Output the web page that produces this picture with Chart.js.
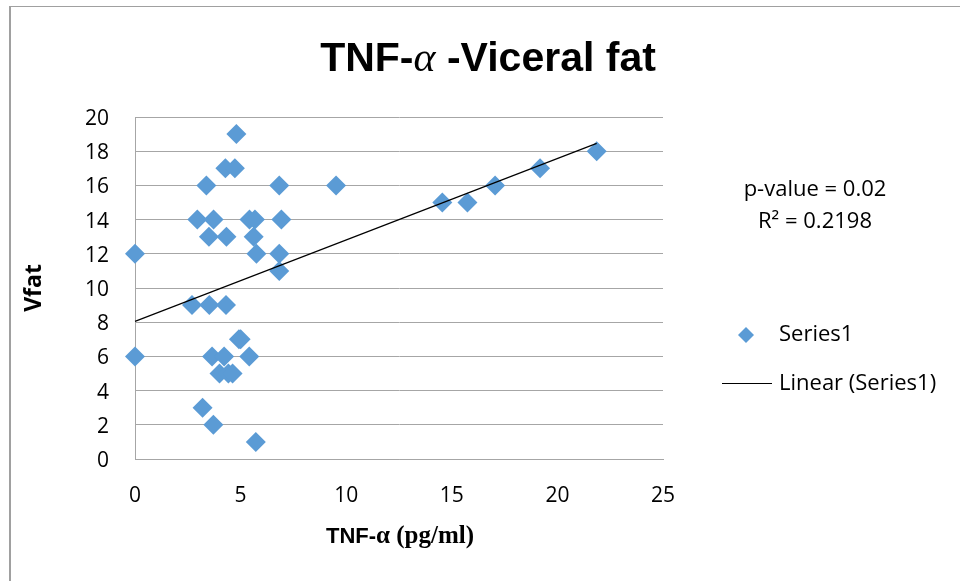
<!DOCTYPE html>
<html>
<head>
<meta charset="utf-8">
<script src="https://cdn.jsdelivr.net/npm/chart.js@4/dist/chart.umd.min.js"></script>
<style>
html,body{margin:0;padding:0;background:#fff;}
#wrap{position:relative;width:960px;height:581px;}
</style>
</head>
<body>
<div id="wrap"><canvas id="c" width="960" height="581"></canvas></div>
<script>
// ---- data ----
const tnfAlpha = [0, 0, 4.8, 4.28, 4.73, 3.38, 6.83, 9.52, 2.95, 3.72, 5.42, 5.68, 6.93,
  3.5, 4.33, 5.62, 5.75, 6.83, 6.83, 2.7, 3.52, 4.31, 4.92, 5.0, 3.65, 4.22, 5.41,
  4.0, 4.42, 4.62, 3.2, 3.71, 5.72, 14.55, 15.74, 17.05, 19.18, 21.86];
const vfat = [12, 6, 19, 17, 17, 16, 16, 16, 14, 14, 14, 14, 14,
  13, 13, 13, 12, 12, 11, 9, 9, 9, 7, 7, 6, 6, 6,
  5, 5, 5, 3, 2, 1, 15, 15, 16, 17, 18];
const trendX = [0, 21.86];
const trendY = [8.05, 18.46];
const xTicks = [0, 5, 10, 15, 20, 25];
const yTicks = [0, 2, 4, 6, 8, 10, 12, 14, 16, 18, 20];
const seriesName = 'Series1';
const trendName = 'Linear (Series1)';
const statLines = ['p-value = 0.02', 'R\u00B2 = 0.2198'];

const points = tnfAlpha.map((x, i) => ({x: x, y: vfat[i]}));
const trend = trendX.map((x, i) => ({x: x, y: trendY[i]}));

const BLUE = '#5b9bd5';
const GRID = '#a6a6a6';

function drawSegments(ctx, segs, cx, cy) {
  let total = 0;
  segs.forEach(s => { ctx.font = s.font; s.w = ctx.measureText(s.text).width; total += s.w; });
  let x = cx - total / 2;
  ctx.textBaseline = 'alphabetic';
  ctx.textAlign = 'left';
  segs.forEach(s => { ctx.font = s.font; ctx.fillText(s.text, x, cy); x += s.w; });
}

const decor = {
  id: 'decor',
  beforeDraw(chart) {
    const ctx = chart.ctx;
    ctx.save();
    ctx.fillStyle = '#fff';
    ctx.fillRect(0, 0, chart.width, chart.height);
    ctx.fillStyle = '#a0a0a0';
    ctx.fillRect(9, 6, 2, chart.height - 6);
    ctx.fillRect(9, 6, chart.width - 9, 1);
    ctx.restore();
  },
  afterDraw(chart) {
    const ctx = chart.ctx;
    ctx.save();
    ctx.fillStyle = '#000';
    // title
    drawSegments(ctx, [
      {text: 'TNF-', font: 'bold 41px "Liberation Sans Narrow", "Liberation Sans", sans-serif'},
      {text: '\u03B1', font: 'italic 42px "Liberation Serif", serif'},
      {text: ' -Viceral fat', font: 'bold 41px "Liberation Sans Narrow", "Liberation Sans", sans-serif'}
    ], 488, 71);
    // x axis title
    drawSegments(ctx, [
      {text: 'TNF-', font: 'bold 22px "Liberation Sans Narrow", "Liberation Sans", sans-serif'},
      {text: '\u03B1 (pg/ml)', font: 'bold 25px "Liberation Serif", serif'}
    ], 400, 543);
    // y axis title
    ctx.save();
    ctx.translate(41, 288);
    ctx.rotate(-Math.PI / 2);
    ctx.font = 'bold 23px "Open Sans", sans-serif';
    ctx.textAlign = 'center';
    ctx.textBaseline = 'alphabetic';
    ctx.fillText('Vfat', 0, 0);
    ctx.restore();
    // stats
    ctx.font = '22px "Open Sans", sans-serif';
    ctx.textAlign = 'center';
    ctx.textBaseline = 'middle';
    ctx.fillText(statLines[0], 815, 190);
    ctx.fillText(statLines[1], 815, 222);
    // legend
    ctx.textAlign = 'left';
    ctx.fillText(seriesName, 779, 335);
    ctx.fillText(trendName, 779, 384);
    ctx.fillStyle = BLUE;
    ctx.beginPath();
    ctx.moveTo(746, 327); ctx.lineTo(754, 335); ctx.lineTo(746, 343); ctx.lineTo(738, 335);
    ctx.closePath(); ctx.fill();
    ctx.strokeStyle = '#000';
    ctx.lineWidth = 1;
    ctx.beginPath();
    ctx.moveTo(722, 383.5); ctx.lineTo(772, 383.5); ctx.stroke();
    ctx.restore();
  }
};

new Chart(document.getElementById('c'), {
  type: 'scatter',
  data: {
    datasets: [
      {
        label: seriesName,
        data: points,
        pointStyle: 'rectRot',
        pointRadius: 10,
        pointHoverRadius: 10,
        backgroundColor: BLUE,
        borderColor: BLUE,
        borderWidth: 0,
        clip: false,
        order: 2
      },
      {
        label: trendName,
        type: 'line',
        data: trend,
        showLine: true,
        borderColor: '#000',
        borderWidth: 1.2,
        pointRadius: 0,
        fill: false,
        clip: false,
        order: 1
      }
    ]
  },
  plugins: [decor],
  options: {
    responsive: false,
    animation: false,
    events: [],
    layout: {padding: {left: 0, top: 117, right: 297, bottom: 0}},
    plugins: {legend: {display: false}, title: {display: false}, tooltip: {enabled: false}},
    scales: {
      x: {
        type: 'linear', min: 0, max: 25,
        afterFit(s) { s.height = 122; },
        afterBuildTicks(s) { s.ticks = xTicks.map(v => ({value: v})); },
        grid: {display: false, drawTicks: false},
        border: {display: true, color: GRID, width: 1},
        ticks: {color: '#000', font: {family: '"Open Sans", sans-serif', size: 21}, padding: 24, maxRotation: 0}
      },
      y: {
        type: 'linear', min: 0, max: 20,
        afterFit(s) { s.width = 135; },
        afterBuildTicks(s) { s.ticks = yTicks.map(v => ({value: v})); },
        grid: {display: true, color: GRID, lineWidth: 1, drawTicks: false},
        border: {display: true, color: GRID, width: 1},
        ticks: {color: '#000', font: {family: '"Open Sans", sans-serif', size: 21}, padding: 26, labelOffset: 2}
      }
    }
  }
});
</script>
</body>
</html>
